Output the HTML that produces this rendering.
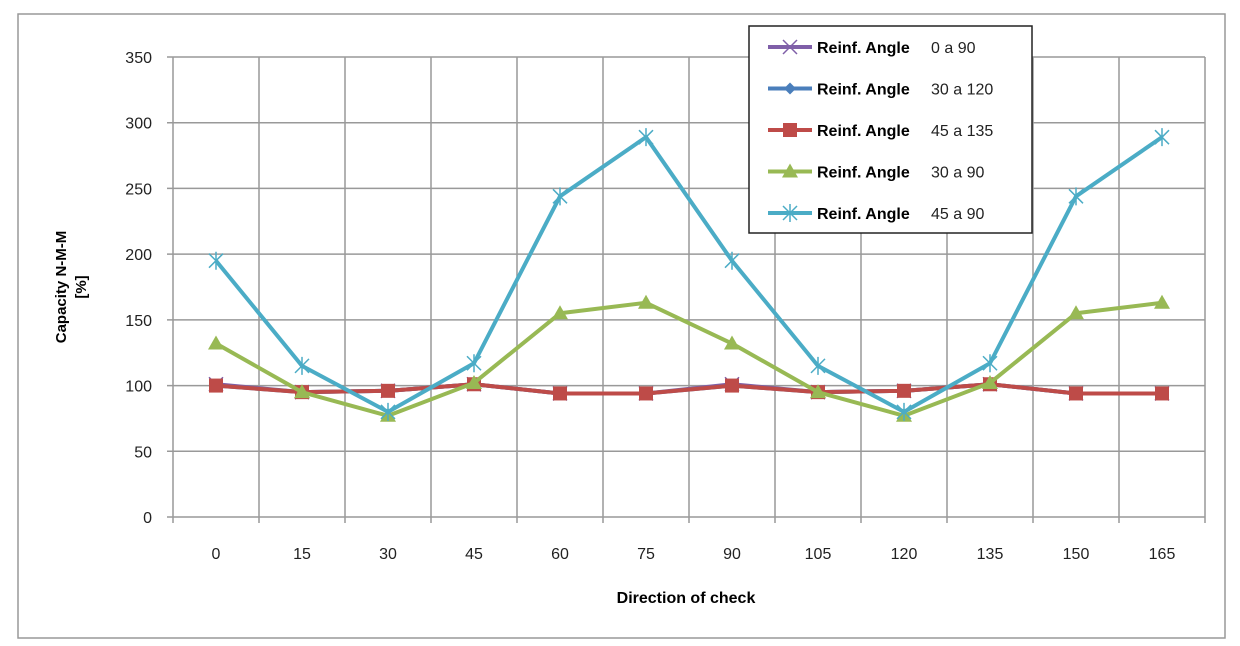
<!DOCTYPE html><html><head><style>body{margin:0;background:#fff}svg{display:block}text{font-family:"Liberation Sans",sans-serif}</style></head><body>
<svg width="1240" height="646" xmlns="http://www.w3.org/2000/svg">
<rect x="18" y="14" width="1207" height="624" fill="#fff" stroke="#999" stroke-width="1.5"/>
<g stroke="#999" stroke-width="1.5" id="grid"></g>
<g id="ylab" font-size="16" fill="#222" text-anchor="end"></g>
<g id="xlab" font-size="16" fill="#222" text-anchor="middle"></g>
<text x="686" y="603" font-size="16" font-weight="bold" text-anchor="middle">Direction of check</text>
<text transform="translate(66,287) rotate(-90)" font-size="15" font-weight="bold" text-anchor="middle">Capacity N-M-M</text>
<text transform="translate(86,287) rotate(-90)" font-size="15" font-weight="bold" text-anchor="middle">[%]</text>
<g id="series"></g>
<rect x="749" y="26" width="283" height="207" fill="#fff" stroke="#222" stroke-width="1.5"/>
<g id="legend" font-size="16"></g>
</svg>
<script>
const ns="http://www.w3.org/2000/svg";
function el(p,t,a,txt){const e=document.createElementNS(ns,t);for(const k in a)e.setAttribute(k,a[k]);if(txt!==undefined)e.textContent=txt;p.appendChild(e);return e}
const g=document.getElementById('grid'),yl=document.getElementById('ylab'),xl=document.getElementById('xlab');
const L=173,R=1205,T=57,B=517,Y=v=>B-v*(B-T)/350,X=i=>216+86*i;
for(let v=0;v<=350;v+=50){el(g,'line',{x1:L-6,x2:R,y1:Y(v),y2:Y(v)});el(yl,'text',{x:152,y:Y(v)+6},v)}
for(let i=0;i<=12;i++){el(g,'line',{x1:L+86*i,x2:L+86*i,y1:T,y2:B+6})}
for(let i=0;i<12;i++)el(xl,'text',{x:X(i),y:559},i*15);
const S=document.getElementById('series');
const data=[
{c:'#7f5fa8',m:'x',d:[101,95,96,101,94,94,101,95,96,101,94,94]},
{c:'#4a7ebb',m:'d',d:[100,95,96,101,94,94,100,95,96,101,94,94]},
{c:'#be4b48',m:'s',d:[100,95,96,101,94,94,100,95,96,101,94,94]},
{c:'#98b954',m:'t',d:[132,95,77,102,155,163,132,95,77,102,155,163]},
{c:'#4bacc6',m:'*',d:[195,115,80,117,244,289,195,115,80,117,244,289]}];
function mark(p,m,x,y,c){
 if(m=='s')el(p,'rect',{x:x-7,y:y-7,width:14,height:14,fill:c});
 else if(m=='t')el(p,'polygon',{points:`${x},${y-8} ${x+8},${y+6} ${x-8},${y+6}`,fill:c});
 else if(m=='d')el(p,'polygon',{points:`${x},${y-6} ${x+6},${y} ${x},${y+6} ${x-6},${y}`,fill:c});
 else{const s=7;el(p,'path',{d:`M${x-s} ${y-s}L${x+s} ${y+s}M${x-s} ${y+s}L${x+s} ${y-s}`+(m=='*'?`M${x} ${y-s-2}L${x} ${y+s+2}`:''),stroke:c,'stroke-width':1.5,fill:'none'})}
}
data.forEach(s=>{el(S,'polyline',{points:s.d.map((v,i)=>X(i)+','+Y(v)).join(' '),fill:'none',stroke:s.c,'stroke-width':4,'stroke-linejoin':'round'});s.d.forEach((v,i)=>mark(S,s.m,X(i),Y(v),s.c))});
const lg=document.getElementById('legend');const nm=['0 a 90','30 a 120','45 a 135','30 a 90','45 a 90'];
data.forEach((s,i)=>{const y=47+41.5*i;el(lg,'line',{x1:768,x2:812,y1:y,y2:y,stroke:s.c,'stroke-width':4});mark(lg,s.m,790,y,s.c);
el(lg,'text',{x:817,y:y+6,'font-weight':'bold'},'Reinf. Angle');el(lg,'text',{x:931,y:y+6,fill:'#222'},nm[i])});
</script></body></html>
